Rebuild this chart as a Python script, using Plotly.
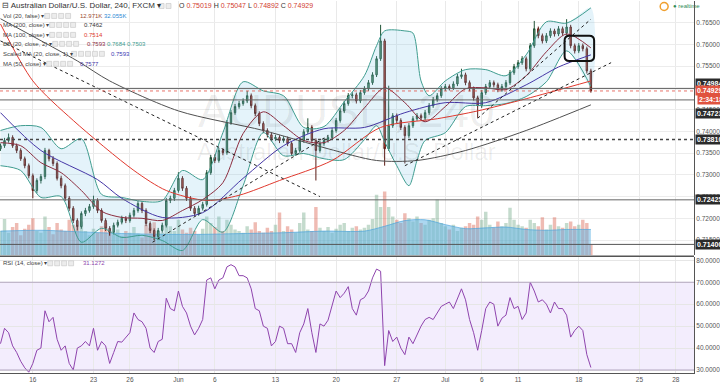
import plotly.graph_objects as go

# ---------------- data ----------------
bar_index = list(range(147))
opens = [0.7360,0.7367,0.7379,0.7386,0.7367,0.7356,0.7337,0.7321,0.7298,0.7264,
0.7287,0.7296,0.7356,0.7337,0.7326,0.7292,0.7275,0.7246,0.7223,0.7195,
0.7181,0.7211,0.7218,0.7227,0.7241,0.7218,0.7195,0.7177,0.7168,0.7184,
0.7191,0.7200,0.7195,0.7207,0.7218,0.7234,0.7218,0.7188,0.7172,0.7158,
0.7172,0.7184,0.7241,0.7246,0.7264,0.7292,0.7269,0.7246,0.7223,0.7211,
0.7223,0.7232,0.7305,0.7340,0.7333,0.7356,0.7351,0.7420,0.7443,0.7457,
0.7464,0.7470,0.7482,0.7459,0.7441,0.7418,0.7402,0.7392,0.7383,0.7386,
0.7379,0.7383,0.7372,0.7349,0.7356,0.7379,0.7399,0.7409,0.7379,0.7356,
0.7372,0.7379,0.7386,0.7402,0.7425,0.7447,0.7464,0.7482,0.7484,0.7470,
0.7489,0.7498,0.7512,0.7530,0.7567,0.7608,0.7360,0.7413,0.7436,0.7425,
0.7409,0.7390,0.7413,0.7429,0.7436,0.7431,0.7443,0.7459,0.7473,0.7482,
0.7498,0.7503,0.7500,0.7509,0.7526,0.7530,0.7512,0.7498,0.7477,0.7459,
0.7489,0.7503,0.7512,0.7507,0.7496,0.7503,0.7512,0.7535,0.7549,0.7558,
0.7567,0.7544,0.7597,0.7636,0.7620,0.7608,0.7620,0.7631,0.7624,0.7636,
0.7626,0.7640,0.7597,0.7585,0.7597,0.7590,0.7539]
closes = [0.7367,0.7379,0.7386,0.7367,0.7356,0.7337,0.7321,0.7298,0.7264,0.7287,
0.7296,0.7356,0.7337,0.7326,0.7292,0.7275,0.7246,0.7223,0.7195,0.7181,
0.7211,0.7218,0.7227,0.7241,0.7218,0.7195,0.7177,0.7168,0.7184,0.7191,
0.7200,0.7195,0.7207,0.7218,0.7234,0.7218,0.7188,0.7172,0.7158,0.7172,
0.7184,0.7241,0.7246,0.7264,0.7292,0.7269,0.7246,0.7223,0.7211,0.7223,
0.7232,0.7305,0.7340,0.7333,0.7356,0.7351,0.7420,0.7443,0.7457,0.7464,
0.7470,0.7482,0.7459,0.7441,0.7418,0.7402,0.7392,0.7383,0.7386,0.7379,
0.7383,0.7372,0.7349,0.7356,0.7379,0.7399,0.7409,0.7379,0.7356,0.7372,
0.7379,0.7386,0.7402,0.7425,0.7447,0.7464,0.7482,0.7484,0.7470,0.7489,
0.7498,0.7512,0.7530,0.7567,0.7608,0.7360,0.7413,0.7436,0.7425,0.7409,
0.7390,0.7413,0.7429,0.7436,0.7431,0.7443,0.7459,0.7473,0.7482,0.7498,
0.7503,0.7500,0.7509,0.7526,0.7530,0.7512,0.7498,0.7477,0.7459,0.7489,
0.7503,0.7512,0.7507,0.7496,0.7503,0.7512,0.7535,0.7549,0.7558,0.7567,
0.7544,0.7597,0.7636,0.7620,0.7608,0.7620,0.7631,0.7624,0.7636,0.7626,
0.7640,0.7597,0.7585,0.7597,0.7590,0.7539,0.7493]
highs = [0.7372,0.7385,0.7395,0.7391,0.7372,0.7361,0.7342,0.7326,0.7303,0.7292,
0.7302,0.7362,0.7360,0.7343,0.7331,0.7298,0.7280,0.7251,0.7228,0.7200,
0.7216,0.7224,0.7233,0.7252,0.7246,0.7223,0.7200,0.7182,0.7190,0.7197,
0.7206,0.7205,0.7213,0.7224,0.7240,0.7239,0.7223,0.7193,0.7177,0.7178,
0.7190,0.7247,0.7252,0.7270,0.7306,0.7297,0.7274,0.7251,0.7228,0.7229,
0.7238,0.7311,0.7346,0.7347,0.7362,0.7361,0.7426,0.7449,0.7463,0.7470,
0.7476,0.7493,0.7487,0.7464,0.7446,0.7423,0.7407,0.7397,0.7392,0.7391,
0.7389,0.7388,0.7377,0.7362,0.7385,0.7405,0.7430,0.7414,0.7384,0.7378,
0.7385,0.7392,0.7408,0.7431,0.7453,0.7470,0.7488,0.7490,0.7489,0.7495,
0.7504,0.7518,0.7536,0.7573,0.7645,0.7613,0.7505,0.7442,0.7441,0.7430,
0.7414,0.7419,0.7435,0.7442,0.7441,0.7449,0.7465,0.7479,0.7488,0.7504,
0.7509,0.7508,0.7515,0.7532,0.7544,0.7535,0.7517,0.7503,0.7482,0.7495,
0.7509,0.7518,0.7517,0.7512,0.7509,0.7518,0.7541,0.7555,0.7564,0.7573,
0.7572,0.7603,0.7654,0.7641,0.7625,0.7626,0.7637,0.7636,0.7642,0.7641,
0.7658,0.7645,0.7602,0.7603,0.7602,0.7595,0.7544]
lows = [0.7355,0.7362,0.7374,0.7362,0.7350,0.7332,0.7315,0.7292,0.7246,0.7258,
0.7280,0.7290,0.7331,0.7320,0.7287,0.7269,0.7240,0.7217,0.7189,0.7172,
0.7176,0.7205,0.7213,0.7222,0.7212,0.7190,0.7171,0.7160,0.7163,0.7179,
0.7186,0.7189,0.7190,0.7202,0.7213,0.7212,0.7182,0.7166,0.7150,0.7153,
0.7167,0.7179,0.7235,0.7240,0.7259,0.7263,0.7240,0.7217,0.7205,0.7206,
0.7218,0.7227,0.7300,0.7327,0.7328,0.7345,0.7346,0.7415,0.7438,0.7452,
0.7459,0.7465,0.7453,0.7435,0.7412,0.7396,0.7386,0.7377,0.7378,0.7373,
0.7374,0.7366,0.7343,0.7344,0.7351,0.7374,0.7394,0.7373,0.7287,0.7351,
0.7367,0.7374,0.7381,0.7397,0.7420,0.7442,0.7459,0.7476,0.7464,0.7465,
0.7484,0.7493,0.7507,0.7525,0.7562,0.7321,0.7355,0.7408,0.7419,0.7403,
0.7326,0.7385,0.7408,0.7424,0.7425,0.7426,0.7438,0.7454,0.7468,0.7477,
0.7493,0.7494,0.7495,0.7504,0.7521,0.7506,0.7492,0.7471,0.7431,0.7454,
0.7484,0.7498,0.7501,0.7490,0.7491,0.7498,0.7507,0.7530,0.7544,0.7553,
0.7538,0.7539,0.7592,0.7614,0.7602,0.7603,0.7615,0.7618,0.7619,0.7620,
0.7621,0.7591,0.7579,0.7580,0.7584,0.7533,0.7489]
volume_k = [30,45,28,35,40,25,33,38,46,30,
28,48,35,26,40,32,30,44,38,36,
42,30,25,33,28,36,40,30,26,32,
24,30,28,35,27,22,38,34,41,30,
28,45,36,30,44,32,28,34,30,26,
33,48,40,35,48,30,44,38,32,30,
28,36,32,41,30,28,34,30,38,53,
30,36,32,28,40,53,32,30,60,34,
30,35,28,33,38,40,30,34,36,32,
34,38,45,75,60,79,60,48,44,40,
52,46,42,48,40,38,44,46,69,40,
36,32,38,30,34,36,40,38,48,44,
54,38,34,42,36,40,59,44,38,36,
34,44,40,36,47,32,38,47,36,34,
40,42,36,38,44,40,13]
rsi_values = [42,49,47,41,38,34,31,29,33,39,
40,57,52,54,44,39,41,33,30,40,
41,43,41,49,39,43,41,33,38,43,
42.7,45,47,56,53,52,49,40,38,43,
44,62.7,58,57,66,59,56,50,46,49,
53,71,72,67,71,72,77,78,77,73,
73,72,67,58,57,50,49,41,43,50,
49,42,42,38,47,51,58,47,38,51,
50,52.7,60,66,63,65,68,58,55,62,
63,66,72,76,75,32,48,43,45,40,
37,45,42,46,50,53,54,53,56,59,
60,61,58,63,67,62,53,47,39,48,
58,61,60,50,53.6,55,63,58,59,53,
56,70,66,61,62,60,56,61,58,58,
55,45,48,50,48,37,31.13]

# volume moving average (read as waypoints)
vol_ma_idx = [0,10,20,30,40,50,60,70,80,90,95,100,105,110,115,120,125,130,135,140,146]
vol_ma_k = [30,31,29,27,26,26,27,28,30,30,36,43,44,38,33,34,35,32,31,32,32]

# Bollinger Bands (20, 2) waypoints
bb_mid_idx = [0,5,10,15,20,25,30,35,40,45,50,55,60,65,70,75,80,85,90,95,100,105,110,115,120,125,130,135,140,146]
bb_mid = [0.7374,0.7367,0.7328,0.7305,0.7264,0.7216,0.7202,0.7200,0.7195,0.7218,0.7243,0.7282,0.7395,0.7445,0.7413,
          0.7379,0.7374,0.7402,0.7454,0.7500,0.7466,0.7422,0.7457,0.7498,0.7500,0.7496,0.7528,0.7583,0.7624,0.7592]
bb_up_idx = [0,5,10,15,20,25,30,35,40,45,50,55,60,65,70,75,80,85,90,93,95,100,102,104,106,110,115,120,125,130,135,140,146]
bb_up = [0.7402,0.7413,0.7409,0.7360,0.7383,0.7255,0.7248,0.7239,0.7241,0.7310,0.7289,0.7397,0.7514,0.7493,0.7482,
         0.7409,0.7411,0.7468,0.7528,0.7597,0.7631,0.7631,0.7626,0.7516,0.7482,0.7516,0.7542,0.7542,0.7528,0.7576,
         0.7652,0.7649,0.7684]
bb_lo_idx = [0,5,10,15,20,25,30,35,40,45,50,55,60,65,70,75,80,85,90,93,95,98,101,103,105,110,115,120,125,130,135,140,146]
bb_lo = [0.7321,0.7310,0.7248,0.7250,0.7145,0.7177,0.7156,0.7161,0.7149,0.7126,0.7197,0.7168,0.7275,0.7397,0.7344,
         0.7349,0.7337,0.7335,0.7381,0.7413,0.7376,0.7321,0.7275,0.7333,0.7379,0.7397,0.7457,0.7459,0.7464,0.7480,
         0.7514,0.7585,0.7503]

# moving averages waypoints
ma50_idx = [0,10,24,30,40,50,60,70,80,90,100,110,120,130,138,146]
ma50 = [0.7443,0.7356,0.7289,0.7246,0.7202,0.7213,0.7292,0.7367,0.7406,0.7409,0.7443,0.7466,0.7466,0.7507,0.7548,0.7576]
ma100_idx = [0,8,18,33,41,51,59,69,82,94,108,118,130,146]
ma100 = [0.7647,0.7516,0.7425,0.7310,0.7264,0.7241,0.7253,0.7287,0.7333,0.7409,0.7429,0.7447,0.7475,0.7516]
ma200_idx = [0,19,27,44,65,81,93,103,115,130,146]
ma200 = [0.7659,0.7562,0.7516,0.7447,0.7402,0.7360,0.7333,0.7333,0.7356,0.7402,0.7461]

# drawn trend lines (start bar, start price, end bar, end price)
trend_x0 = [0, 37.6, 100, 118]
trend_y0 = [0.7608, 0.7145, 0.7321, 0.7430]
trend_x1 = [79, 81, 151, 146]
trend_y1 = [0.7250, 0.7390, 0.7558, 0.7658]

# horizontal levels
level_prices = [0.74984, 0.74723, 0.73810, 0.72425, 0.71400]
level_labels = ["0.74984", "0.74723", "0.73810", "0.72425", "0.71400"]
last_price = 0.74929

# x axis ticks
tick_idx = [8, 23, 32, 44, 53, 68, 83, 98, 110, 119, 128, 143, 158, 167]
tick_text = ["16", "23", "26", "Jun", "6", "13", "20", "27", "Jul", "6", "11", "18", "25", "28"]

# ---------------- figure ----------------
FONT = "Liberation Sans, Arial, sans-serif"
W_PLOT, H_PLOT = 698.0, 373.0
MAIN_BOTTOM = 1 - 255 / H_PLOT
RSI_TOP = 1 - 257 / H_PLOT

fig = go.Figure()

# volume (base axis y, drawn underneath price)
fig.add_trace(go.Scatter(x=vol_ma_idx, y=vol_ma_k, mode="lines", fill="tozeroy",
                         line=dict(color="rgba(80,165,220,0.7)", width=1, shape="spline", smoothing=0.8),
                         fillcolor="rgba(90,175,225,0.5)", xaxis="x", yaxis="y", hoverinfo="skip"))
vol_colors = ["rgba(107,165,131,0.4)" if c >= o else "rgba(215,84,66,0.4)" for o, c in zip(opens, closes)]
fig.add_trace(go.Bar(x=bar_index, y=volume_k, marker=dict(color=vol_colors, line=dict(width=0)),
                     xaxis="x", yaxis="y", hoverinfo="skip"))

# Bollinger fill
fig.add_trace(go.Scatter(x=bb_up_idx + bb_lo_idx[::-1], y=bb_up + bb_lo[::-1], mode="lines",
                         fill="toself", fillcolor="rgba(120,195,230,0.2)",
                         line=dict(width=0, shape="spline", smoothing=0.8),
                         xaxis="x", yaxis="y3", hoverinfo="skip"))
for xs, ys, col in [(bb_up_idx, bb_up, "#3f9c8f"), (bb_lo_idx, bb_lo, "#3f9c8f"),
                    (ma200_idx, ma200, "#505050"), (ma100_idx, ma100, "#e0392e"),
                    (ma50_idx, ma50, "#4536a6"), (bb_mid_idx, bb_mid, "#8c2d3f")]:
    fig.add_trace(go.Scatter(x=xs, y=ys, mode="lines",
                             line=dict(color=col, width=1, shape="spline", smoothing=0.8),
                             xaxis="x", yaxis="y3", hoverinfo="skip"))

# trend lines
for a, b, c, d in zip(trend_x0, trend_y0, trend_x1, trend_y1):
    fig.add_trace(go.Scatter(x=[a, c], y=[b, d], mode="lines",
                             line=dict(color="#222", width=1, dash="dot"),
                             xaxis="x", yaxis="y3", hoverinfo="skip"))

# candles
fig.add_trace(go.Candlestick(x=bar_index, open=opens, high=highs, low=lows, close=closes,
                             increasing=dict(fillcolor="#6ba583", line=dict(color="#225437", width=1)),
                             decreasing=dict(fillcolor="#d75442", line=dict(color="#5b1a13", width=1)),
                             xaxis="x", yaxis="y3", hoverinfo="skip"))

# RSI
fig.add_trace(go.Scatter(x=bar_index, y=rsi_values, mode="lines",
                         line=dict(color="#8e44ad", width=1), xaxis="x", yaxis="y2", hoverinfo="skip"))

shapes = []
# level lines
level_styles = [("#666", "solid", 1), ("#666", "solid", 1), ("#444", "dot", 1.5), ("#666", "solid", 1), ("#555", "solid", 1)]
for p, (col, dash, w) in zip(level_prices, level_styles):
    shapes.append(dict(type="line", xref="paper", x0=0, x1=1, yref="y3", y0=p, y1=p,
                       line=dict(color=col, width=w, dash=dash)))
shapes.append(dict(type="line", xref="paper", x0=0, x1=1, yref="y3", y0=last_price, y1=last_price,
                   line=dict(color="rgba(225,80,70,0.8)", width=1, dash="dot")))
# RSI band
shapes.append(dict(type="rect", xref="paper", x0=0, x1=1, yref="y2", y0=30, y1=70,
                   fillcolor="rgba(150,90,235,0.11)", line=dict(width=0), layer="below"))
for lv in (30, 70):
    shapes.append(dict(type="line", xref="paper", x0=0, x1=1, yref="y2", y0=lv, y1=lv,
                       line=dict(color="#b3a6c0", width=1)))
# pane separator
shapes.append(dict(type="line", xref="paper", x0=0, x1=1, yref="paper",
                   y0=1 - 256 / H_PLOT, y1=1 - 256 / H_PLOT, line=dict(color="#555", width=1.5)))

# rounded annotation box
bx0, bx1, by0, by1 = 139.5, 146.8, 0.7562, 0.7620
rx, ry = 1.2, 0.0011
path = (f"M {bx0+rx},{by1} L {bx1-rx},{by1} Q {bx1},{by1} {bx1},{by1-ry} L {bx1},{by0+ry} "
        f"Q {bx1},{by0} {bx1-rx},{by0} L {bx0+rx},{by0} Q {bx0},{by0} {bx0},{by0+ry} "
        f"L {bx0},{by1-ry} Q {bx0},{by1} {bx0+rx},{by1} Z")
shapes.append(dict(type="path", xref="x", yref="y3", path=path, line=dict(color="#111", width=2)))


def px(x, y):
    return x / W_PLOT, 1 - y / H_PLOT


def squares(x0, y, n):
    for i in range(n):
        a, b = px(x0 + i * 7, y - 2.5)
        c, d = px(x0 + i * 7 + 5, y + 2.5)
        shapes.append(dict(type="rect", xref="paper", yref="paper", x0=a, x1=c, y0=d, y1=b,
                           fillcolor="#ececec", line=dict(color="#c4c4c4", width=0.6)))


annotations = []


def text(t, x, y, size=6, color="#444", anchor="left", **kw):
    a, b = px(x, y)
    annotations.append(dict(text=t, x=a, y=b, xref="paper", yref="paper", xanchor=anchor, yanchor="middle",
                            showarrow=False, font=dict(size=size, color=color, family=FONT), **kw))


RED = "#d23c2f"
# header
text("⊟ Australian Dollar/U.S. Dollar, 240, FXCM ▾", 0, 5, size=8, color="#333")
squares(160, 5, 2)
text(f"O <span style='color:{RED}'>0.75019</span> H <span style='color:{RED}'>0.75047</span> "
     f"L <span style='color:{RED}'>0.74892</span> C <span style='color:{RED}'>0.74929</span>", 178, 5, size=7, color="#333")
text("Vol (20, false) ▾", 1, 15)
squares(45, 15, 4)
text("<span style='color:#9a4a30'>12.971K</span> <span style='color:#2a8ad4'>32.055K</span>", 78, 15)
text("MA (200, close) ▾", 1, 24)
squares(50, 24, 4)
text("0.7462", 82, 24, color="#333")
text("MA (100, close) ▾", 1, 34)
squares(50, 34, 4)
text("0.7514", 82, 34, color="#e0392e")
text("BB (20, close, 2) ▾", 1, 43)
squares(53, 43, 4)
text("<span style='color:#8c2d3f'>0.7593</span> <span style='color:#3f9c8f'>0.7684</span> "
     "<span style='color:#3f9c8f'>0.7503</span>", 85, 43)
text("Scaled MA (20, close, 1) ▾", 1, 53)
squares(72, 53, 5)
text("0.7593", 110, 53, color="#3b3bb3")
text("MA (50, close) ▾", 1, 63)
squares(47, 63, 4)
text("0.7577", 78, 63, color="#4536a6")
text("RSI (14, close) ▾", 1, 263)
squares(48, 263, 4)
text("31.1272", 81, 263, color="#8e44ad")

# watermark
text("AUDUSD, 240", 348, 110, size=46, color="rgba(0,0,0,0.07)", anchor="center")
text("Australian Dollar/U.S. Dollar", 348, 151, size=24, color="rgba(0,0,0,0.07)", anchor="center")

# realtime badge
a, b = px(664, 1.5)
c, d = px(672, 9.5)
shapes.append(dict(type="circle", xref="paper", yref="paper", x0=a, x1=c, y0=d, y1=b,
                   line=dict(color="#f0a030", width=1.5)))
text("● realtime", 675, 5.5, size=6, color="#2e8b57")

# price-axis labels
label_shift = [5, -14, 0, 0, 0]
for p, lab, sh in zip(level_prices, level_labels, label_shift):
    annotations.append(dict(text=f"<b>{lab}</b>", x=1, xref="paper", y=p, yref="y3", xanchor="left",
                            yanchor="middle", xshift=1, yshift=sh, showarrow=False, bgcolor="#2b2b2b",
                            borderpad=1, font=dict(size=7, color="white", family=FONT)))
annotations.append(dict(text="<b>0.74929</b>", x=1, xref="paper", y=last_price, yref="y3", xanchor="left",
                        yanchor="middle", xshift=1, showarrow=False, bgcolor="#e0533f", borderpad=1,
                        font=dict(size=7, color="white", family=FONT)))
annotations.append(dict(text="<b>2:34:18</b>", x=1, xref="paper", y=last_price, yref="y3", xanchor="left",
                        yanchor="middle", xshift=3, yshift=-9, showarrow=False, bgcolor="#e0533f", borderpad=1,
                        font=dict(size=7, color="white", family=FONT)))

fig.update_layout(
    width=720, height=386, margin=dict(l=0, r=22, t=0, b=13),
    paper_bgcolor="white", plot_bgcolor="white", showlegend=False,
    font=dict(family=FONT, size=7, color="#555"),
    bargap=0.15, boxgap=0.5,
    xaxis=dict(domain=[0, 1], anchor="y2", range=[-0.12, 171.5], tickvals=tick_idx, ticktext=tick_text,
               showgrid=True, gridcolor="#e9e9e9", gridwidth=1, zeroline=False, showline=True,
               linecolor="#555", linewidth=1, ticks="", tickfont=dict(size=6.5, color="#555"),
               rangeslider=dict(visible=False)),
    yaxis=dict(domain=[MAIN_BOTTOM, 1], range=[0, 315], visible=False, showgrid=False, fixedrange=True),
    yaxis3=dict(overlaying="y", side="right", anchor="x", range=[0.71149, 0.76998], dtick=0.005,
                tick0=0.70, tickformat=".5f", showgrid=True, gridcolor="#ececec", zeroline=False,
                showline=True, linecolor="#555", linewidth=1, ticks="", tickfont=dict(size=6.5, color="#555")),
    yaxis2=dict(domain=[0, RSI_TOP], anchor="x", side="right", range=[28.64, 81.36],
                tickvals=[30, 40, 50, 60, 70, 80], tickformat=".4f", showgrid=True, gridcolor="#e6e6e6",
                zeroline=False, showline=True, linecolor="#555", linewidth=1, ticks="",
                tickfont=dict(size=6.5, color="#555")),
    shapes=shapes, annotations=annotations,
)

fig.write_html("out.html", config={"displayModeBar": False},
               post_script="document.body.style.margin='0';document.body.style.padding='0';")
